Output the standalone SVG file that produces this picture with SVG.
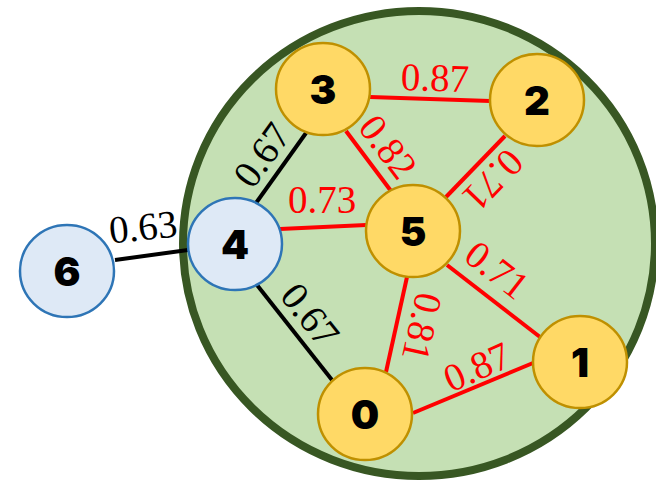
<svg xmlns="http://www.w3.org/2000/svg" width="656" height="482" viewBox="0 0 656 482">
  <style>
    .region { fill: #c5e0b4; stroke: #385723; stroke-width: 8; }
    .edge { stroke-width: 4; stroke-linecap: butt; }
    .red { stroke: #ff0000; }
    .blk { stroke: #000000; }
    .wlbl { font-family: "Liberation Serif", "Times New Roman", serif; font-size: 39px; text-anchor: middle; }
    .wred { fill: #ff0000; }
    .wblk { fill: #000000; }
    .core { fill: #ffd966; stroke: #bf9000; stroke-width: 2.5; }
    .outer { fill: #dee9f6; stroke: #2e75b6; stroke-width: 2.5; }
    .nlbl { font-family: Inter, "Liberation Sans", Arial, sans-serif; font-weight: 900; font-size: 40px; text-anchor: middle; fill: #000000; }
  </style>

  <!-- community boundary -->
  <ellipse class="region" cx="419" cy="243.5" rx="236" ry="232.5"/>

  <g id="connectors">
    <line class="edge blk" x1="115" y1="260" x2="188" y2="250"/>
    <line class="edge blk" x1="256" y1="203" x2="306" y2="133"/>
    <line class="edge blk" x1="257" y1="285" x2="332" y2="380"/>
    <line class="edge red" x1="370" y1="97" x2="490" y2="101"/>
    <line class="edge red" x1="346" y1="131" x2="391" y2="191"/>
    <line class="edge red" x1="505" y1="136" x2="446" y2="197"/>
    <line class="edge red" x1="280" y1="229" x2="366" y2="225"/>
    <line class="edge red" x1="447" y1="265" x2="540" y2="337"/>
    <line class="edge red" x1="407" y1="277" x2="386" y2="372"/>
    <line class="edge red" x1="413" y1="413" x2="533" y2="363"/>

    <!-- edge weights -->
    <text class="wlbl wblk" transform="translate(143,227) rotate(-6)" y="13">0.63</text>
    <text class="wlbl wblk" transform="translate(262,155) rotate(-54.5)" y="13">0.67</text>
    <text class="wlbl wblk" transform="translate(310,315) rotate(51.7)" y="13">0.67</text>
    <text class="wlbl wred" transform="translate(435,78) rotate(1.6)" y="13">0.87</text>
    <text class="wlbl wred" transform="translate(322,200)" y="13">0.73</text>
    <text class="wlbl wred" transform="translate(388,147) rotate(53)" y="13">0.82</text>
    <text class="wlbl wred" transform="translate(493,180) rotate(134)" y="13">0.71</text>
    <text class="wlbl wred" transform="translate(497,270) rotate(38)" y="13">0.71</text>
    <text class="wlbl wred" transform="translate(422,327) rotate(102.6)" y="13">0.81</text>
    <text class="wlbl wred" transform="translate(477,367) rotate(-24)" y="13">0.87</text>
  </g>

  <g id="node-0"><ellipse class="core" cx="365" cy="414" rx="47" ry="46"/><text class="nlbl" x="365" y="429">0</text></g>
  <g id="node-1"><ellipse class="core" cx="580" cy="362" rx="47" ry="46"/><text class="nlbl" x="580" y="377">1</text></g>
  <g id="node-2"><ellipse class="core" cx="537" cy="100" rx="47" ry="46"/><text class="nlbl" x="537" y="115">2</text></g>
  <g id="node-3"><ellipse class="core" cx="323" cy="89" rx="47" ry="46"/><text class="nlbl" x="323" y="104">3</text></g>
  <g id="node-5"><ellipse class="core" cx="413" cy="231" rx="47" ry="46"/><text class="nlbl" x="413" y="246">5</text></g>
  <g id="node-4"><ellipse class="outer" cx="235" cy="244" rx="47" ry="46"/><text class="nlbl" x="235" y="259">4</text></g>
  <g id="node-6"><ellipse class="outer" cx="67" cy="271" rx="47" ry="46"/><text class="nlbl" x="67" y="286">6</text></g>
</svg>
